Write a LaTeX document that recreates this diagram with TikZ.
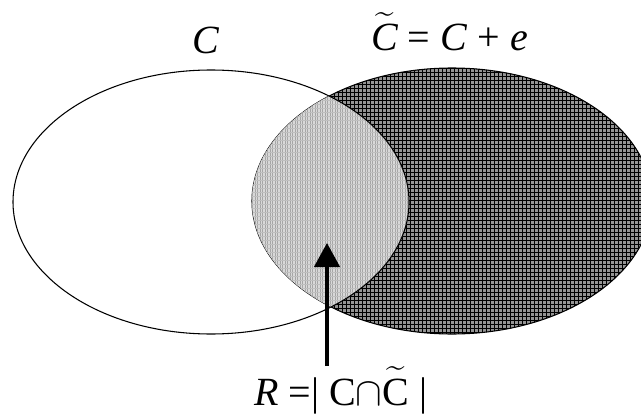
\documentclass[tikz,border=0pt]{standalone}
\usepackage{fix-cm}
\usepackage{amsmath}
\usepackage{fontspec}
\setmainfont{Liberation Serif}
\usetikzlibrary{arrows.meta}
\newcommand{\tildeC}[1]{\widetilde{\rule{0pt}{0.72em}\mbox{#1}}}
\begin{document}
\begin{tikzpicture}[x=0.75pt,y=-0.75pt,
  lbl/.style={inner sep=0pt,font=\fontsize{30}{34}\selectfont},
  outline/.style={draw=black,line width=0.8pt},
  arr/.style={line width=2.5pt,-{Triangle[length=18pt,width=19pt]}}]
\useasboundingbox (0,0) rectangle (641,417);
\clip (0,0) rectangle (641,417);
% right ellipse, dark cross-hatch
\begin{scope}
  \clip (452,201) ellipse [x radius=200,y radius=133];
  \fill[black!42] (250,60) rectangle (660,340);
  \foreach \i in {0,...,102} \draw[black,line width=0.5pt] (250+4*\i,60) -- (250+4*\i,340);
  \foreach \j in {0,...,70} \draw[black,line width=0.5pt] (250,60+4*\j) -- (660,60+4*\j);
\end{scope}
\draw[outline] (452,201) ellipse [x radius=200,y radius=133];
% lens, light hatch
\begin{scope}
  \clip (452,201) ellipse [x radius=200,y radius=133];
  \clip (211,202) ellipse [x radius=198,y radius=132];
  \fill[black!15] (250,60) rectangle (420,340);
  \foreach \i in {0,...,68} \draw[black!35,line width=0.4pt] (250+2.5*\i,60) -- (250+2.5*\i,340);
  \foreach \j in {0,...,70} \draw[black!25,line width=0.3pt] (250,60+4*\j) -- (420,60+4*\j);
\end{scope}
\draw[outline] (211,202) ellipse [x radius=198,y radius=132];
% labels
\node[lbl] (cl) at (206,40) {\itshape C};
\node[lbl,anchor=base west] (ct) at (371,51) {$\tildeC{\itshape C}$ = \textit{C} + \textit{e}};
\node[lbl,anchor=base west] (rl) at (254,405) {\textit{R} =| C$\cap\tildeC{C}$ |};
% arrow
\coordinate (tail) at (327,366);
\coordinate (tip) at (327,243);
\draw[arr] (tail) -- (tip);
\end{tikzpicture}
\end{document}
